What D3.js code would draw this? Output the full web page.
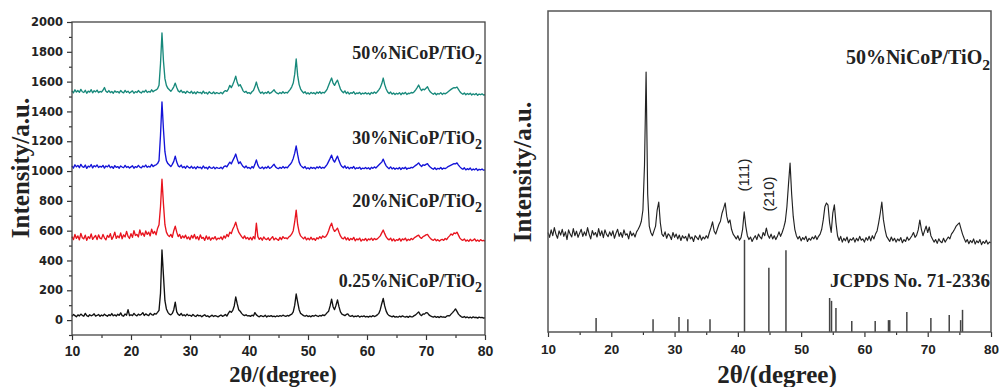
<!DOCTYPE html>
<html><head><meta charset="utf-8">
<script src="https://cdn.jsdelivr.net/npm/d3@7"></script>
<style>body{margin:0;background:#fff}svg{display:block}</style>
</head><body><svg id="c" width="999" height="387"></svg>
<script>
// 2θ sampling grid: 10° to 80° every 0.25°
const thetaStart = 10, thetaStep = 0.25;

// Left panel intensities (a.u.), one value per grid point
const s025 = [
25,38,30,22,35,28,40,32,26,45,30,24,36,29,33,42,27,31,38,25,
34,28,40,31,26,37,30,44,29,35,27,39,32,48,30,26,41,33,70,30,
36,30,45,34,28,40,33,38,50,31,42,35,30,46,37,33,44,40,52,65,
180,470,300,130,75,52,40,35,45,70,120,55,38,32,45,30,36,28,40,30,
33,26,38,29,24,35,28,31,22,30,36,25,29,20,27,33,24,30,26,22,
28,34,25,30,38,27,45,60,52,65,95,155,110,70,60,45,35,30,36,28,
30,25,33,28,50,35,27,22,30,26,24,32,21,28,25,30,23,27,22,29,
24,30,26,33,28,25,31,27,35,40,55,100,175,120,70,45,38,30,26,32,
24,28,22,30,26,33,29,24,31,27,35,30,38,50,60,95,140,90,70,100,
135,90,55,40,35,30,38,42,28,25,31,22,27,24,30,20,26,23,28,21,
25,20,27,22,30,24,28,35,45,70,110,145,95,60,40,30,26,22,28,20,
24,19,26,21,28,23,20,25,18,27,22,22,30,35,45,55,38,30,42,40,
50,48,35,28,24,20,26,18,23,17,25,20,22,18,26,30,28,40,50,62,
75,58,40,30,22,18,24,16,21,15,20,14,22,17,19,13,20,16,18,14,
15];
const s20 = [
560,540,575,548,565,538,582,552,545,570,535,560,548,578,542,556,568,540,572,550,
545,575,552,538,568,555,580,542,560,590,548,565,552,585,546,572,558,595,562,548,
580,555,600,568,575,558,605,570,585,562,598,575,590,565,610,580,595,572,615,640,
760,945,780,640,590,570,560,575,555,600,630,590,560,575,548,565,552,570,545,558,
540,568,550,575,545,560,538,572,548,555,535,565,542,558,536,552,545,560,538,550,
545,558,540,565,550,575,560,590,580,610,630,657,620,590,575,560,548,565,545,555,
540,555,538,560,545,650,560,542,552,536,558,545,540,552,535,548,560,538,550,542,
535,555,540,560,548,552,545,558,565,578,600,660,738,640,590,565,555,545,558,538,
550,538,556,540,548,535,552,545,560,548,565,555,560,575,600,630,650,615,595,605,
617,590,565,550,545,558,538,552,535,548,540,555,532,545,538,550,530,542,536,548,
532,545,538,550,535,548,540,545,555,565,585,604,580,558,545,538,550,532,545,530,
540,535,548,530,545,538,550,532,542,536,548,540,552,558,565,570,555,548,560,565,
572,575,560,548,540,535,545,532,540,530,538,542,535,548,540,555,565,578,570,585,
580,590,570,550,540,535,545,530,538,528,542,532,536,545,530,538,528,540,532,535,
530];
const s30 = [
1035,1020,1042,1028,1038,1022,1045,1030,1025,1040,1018,1033,1027,1044,1021,1036,1029,1041,1024,1032,
1026,1038,1020,1034,1028,1040,1022,1031,1018,1036,1025,1030,1019,1034,1027,1022,1038,1024,1031,1020,
1028,1035,1019,1030,1024,1038,1026,1021,1034,1028,1040,1025,1032,1027,1045,1030,1038,1042,1050,1070,
1240,1463,1280,1130,1070,1050,1040,1030,1045,1065,1100,1060,1035,1028,1040,1022,1030,1019,1034,1025,
1020,1032,1018,1028,1015,1030,1022,1026,1016,1034,1020,1025,1014,1030,1021,1018,1028,1015,1024,1020,
1018,1026,1015,1030,1035,1028,1045,1060,1048,1070,1090,1114,1080,1050,1062,1045,1030,1022,1034,1020,
1024,1016,1030,1020,1045,1075,1040,1022,1018,1028,1015,1026,1020,1032,1018,1024,1035,1045,1028,1020,
1016,1025,1018,1030,1020,1026,1022,1035,1045,1060,1085,1120,1168,1110,1060,1038,1028,1020,1030,1015,
1022,1014,1026,1018,1024,1015,1028,1020,1030,1018,1025,1020,1032,1045,1065,1085,1107,1075,1060,1080,
1100,1070,1045,1030,1022,1035,1018,1028,1015,1024,1019,1030,1014,1022,1018,1026,1012,1020,1016,1024,
1015,1022,1012,1025,1018,1028,1020,1030,1040,1050,1060,1080,1055,1035,1024,1016,1028,1014,1022,1012,
1020,1014,1024,1010,1022,1016,1026,1012,1020,1018,1025,1022,1030,1038,1045,1055,1040,1030,1042,1038,
1045,1050,1035,1025,1018,1012,1022,1010,1018,1014,1024,1012,1020,1016,1022,1030,1035,1040,1045,1050,
1048,1055,1040,1028,1018,1012,1022,1008,1016,1010,1020,1006,1014,1008,1018,1004,1012,1008,1014,1006,
1008];
const s50 = [
1538,1525,1545,1530,1540,1528,1548,1532,1527,1542,1522,1536,1530,1546,1525,1539,1531,1543,1526,1534,
1530,1542,1560,1535,1528,1540,1526,1534,1522,1538,1529,1533,1524,1540,1530,1525,1541,1528,1536,1523,
1531,1538,1522,1533,1527,1540,1529,1524,1536,1530,1543,1527,1534,1529,1545,1532,1540,1544,1552,1575,
1720,1926,1740,1620,1575,1555,1545,1535,1548,1565,1590,1560,1538,1530,1542,1526,1533,1522,1536,1528,
1524,1535,1520,1530,1518,1532,1525,1528,1519,1536,1522,1527,1517,1532,1523,1520,1530,1518,1526,1522,
1520,1528,1518,1532,1540,1535,1550,1575,1560,1580,1605,1637,1595,1570,1580,1560,1538,1528,1535,1522,
1526,1518,1532,1540,1565,1597,1560,1535,1522,1530,1518,1528,1522,1534,1520,1526,1535,1545,1530,1522,
1518,1527,1520,1532,1522,1528,1524,1536,1548,1565,1590,1650,1752,1640,1580,1550,1535,1524,1532,1518,
1525,1516,1528,1520,1526,1517,1530,1522,1532,1520,1528,1524,1535,1550,1575,1600,1624,1590,1575,1595,
1610,1580,1550,1535,1525,1538,1520,1530,1517,1526,1521,1532,1516,1524,1520,1528,1515,1523,1518,1526,
1517,1524,1514,1527,1520,1530,1522,1532,1545,1560,1585,1624,1580,1550,1530,1520,1530,1516,1524,1514,
1522,1516,1526,1512,1524,1518,1528,1514,1522,1520,1527,1524,1532,1545,1560,1577,1555,1540,1550,1545,
1555,1565,1545,1530,1522,1515,1524,1512,1520,1516,1526,1514,1522,1518,1524,1532,1540,1548,1555,1560,
1558,1564,1548,1532,1522,1515,1524,1512,1520,1514,1522,1510,1518,1512,1520,1508,1516,1512,1518,1510,
1512];

// Right panel: 50% NiCoP/TiO2 trace (a.u.)
const sRight = [
310,295,318,300,325,305,292,315,302,320,298,312,288,318,305,296,322,300,314,295,
308,320,298,312,300,325,305,290,316,302,310,296,322,300,315,294,318,304,297,312,
300,315,292,308,320,298,310,295,318,302,306,290,314,300,308,296,312,320,330,345,
380,520,810,430,330,310,300,315,330,380,405,340,305,298,312,292,306,300,288,310,
295,305,290,302,285,300,292,298,284,306,290,296,282,300,294,288,302,286,296,290,
300,292,310,325,343,315,305,320,335,345,370,385,402,360,340,349,320,305,298,290,
300,286,294,320,374,330,300,288,296,282,292,300,288,305,296,290,310,300,324,302,
292,305,290,300,288,298,312,298,310,325,345,390,460,526,430,360,320,300,290,298,
284,294,288,298,282,292,286,296,290,300,288,298,305,320,350,390,402,395,340,310,
370,396,340,300,285,298,280,292,284,296,278,290,286,294,280,292,284,298,286,290,
280,294,286,298,284,300,290,305,315,340,370,405,350,320,298,290,282,296,284,292,
280,290,284,294,278,288,282,296,286,292,300,310,295,302,318,349,320,300,315,330,
310,327,300,290,280,288,276,290,282,278,292,280,288,296,290,305,312,320,330,335,
340,322,305,292,280,288,275,285,278,290,274,284,278,288,272,282,276,286,274,280,
278];

// JCPDS No. 71-2336 reference lines
const refTheta = [17.6,26.6,30.7,32.1,35.6,41.05,44.9,47.6,54.5,54.8,55.5,58.0,61.7,63.8,64.0,66.7,70.5,73.4,75.2,75.5];
const refInt   = [44,40,47,40,40,287,200,255,106,97,75,34,34,37,37,62,44,53,37,69];

const xTicks = [10,20,30,40,50,60,70,80];
const xMinor = [15,25,35,45,55,65,75];
const yTicksLeft = [0,200,400,600,800,1000,1200,1400,1600,1800,2000];
const yMinorLeft = [-100,100,300,500,700,900,1100,1300,1500,1700,1900];

const leftSeries = [
  {name:"0.25%NiCoP/TiO", vals:s025, color:"#111111"},
  {name:"20%NiCoP/TiO",   vals:s20,  color:"#e8141e"},
  {name:"30%NiCoP/TiO",   vals:s30,  color:"#1414d8"},
  {name:"50%NiCoP/TiO",   vals:s50,  color:"#17897b"}
];

const svg = d3.select("#c");
const toPts = vals => vals.map((v,i)=>[thetaStart + i*thetaStep, v]);

// ---------- Left panel ----------
const xL = d3.scaleLinear().domain([10,80]).range([72,485]);
const yL = d3.scaleLinear().domain([-100,2000]).range([335,22]);
const lineL = d3.line().x(d=>xL(d[0])).y(d=>yL(d[1]));

leftSeries.forEach(s=>{
  svg.append("path").datum(toPts(s.vals)).attr("d",lineL)
    .attr("fill","none").attr("stroke",s.color).attr("stroke-width",1.35).attr("stroke-linejoin","round");
});

function styleAxis(g, font, size){
  g.select(".domain").remove();
  g.selectAll("line").attr("stroke","#333").attr("stroke-width",1.2);
  g.selectAll("text").attr("font-family",font).attr("font-weight","bold").attr("font-size",size).attr("fill","#222");
}
let g;
g = svg.append("g").attr("transform","translate(0,335)")
  .call(d3.axisBottom(xL).tickValues(xTicks).tickSize(5).tickPadding(6).tickFormat(d3.format("d")));
styleAxis(g,"'Liberation Sans',Arial,sans-serif",14);
g = svg.append("g").attr("transform","translate(0,335)")
  .call(d3.axisBottom(xL).tickValues(xMinor).tickSize(3).tickFormat(""));
styleAxis(g,"sans-serif",1);
g = svg.append("g").attr("transform","translate(72,0)")
  .call(d3.axisLeft(yL).tickValues(yTicksLeft).tickSize(5).tickPadding(4).tickFormat(d3.format("d")));
styleAxis(g,"'DejaVu Sans',sans-serif",11.5);
g = svg.append("g").attr("transform","translate(72,0)")
  .call(d3.axisLeft(yL).tickValues(yMinorLeft).tickSize(3).tickFormat(""));
styleAxis(g,"sans-serif",1);

svg.append("rect").attr("x",xL(10)).attr("y",yL(2000)).attr("width",xL(80)-xL(10)).attr("height",yL(-100)-yL(2000))
  .attr("fill","none").attr("stroke","#444").attr("stroke-width",1.3);

const serif = "'Liberation Serif','Times New Roman',serif";
function chemLabel(x,y,txt,size){
  const t = svg.append("text").attr("x",x).attr("y",y).attr("text-anchor","end")
    .attr("font-family",serif).attr("font-weight","bold").attr("font-size",size).attr("fill","#222");
  t.append("tspan").text(txt);
  t.append("tspan").attr("dy",size*0.28).attr("font-size",size*0.78).text("2");
}
const leftLabelY = [287,207,144,59];
leftSeries.forEach((s,i)=>chemLabel(482,leftLabelY[i],s.name,18));

svg.append("text").attr("transform","translate(29,168) rotate(-90)").attr("text-anchor","middle")
  .attr("font-family",serif).attr("font-weight","bold").attr("font-size",25).attr("fill","#222").text("Intensity/a.u.");
svg.append("text").attr("x",283).attr("y",382).attr("text-anchor","middle")
  .attr("font-family",serif).attr("font-weight","bold").attr("font-size",22.5).attr("fill","#222").text("2θ/(degree)");

// ---------- Right panel ----------
const xR = d3.scaleLinear().domain([10,80]).range([548,991]);
const yR = d3.scaleLinear().domain([0,1000]).range([332,11]);
const lineR = d3.line().x(d=>xR(d[0])).y(d=>yR(d[1]));

svg.append("path").datum(toPts(sRight)).attr("d",lineR)
  .attr("fill","none").attr("stroke","#222").attr("stroke-width",1.15).attr("stroke-linejoin","round");

svg.selectAll(".ref").data(refTheta.map((t,i)=>[t,refInt[i]])).enter().append("line")
  .attr("x1",d=>xR(d[0])).attr("x2",d=>xR(d[0])).attr("y1",yR(0)).attr("y2",d=>yR(d[1]))
  .attr("stroke","#444").attr("stroke-width",1.5);

g = svg.append("g").attr("transform","translate(0,332)")
  .call(d3.axisBottom(xR).tickValues(xTicks).tickSize(5).tickPadding(7).tickFormat(d3.format("d")));
styleAxis(g,"'Liberation Sans',Arial,sans-serif",13.5);
g = svg.append("g").attr("transform","translate(0,332)")
  .call(d3.axisBottom(xR).tickValues(xMinor).tickSize(3).tickFormat(""));
styleAxis(g,"sans-serif",1);

svg.append("rect").attr("x",xR(10)).attr("y",yR(1000)).attr("width",xR(80)-xR(10)).attr("height",yR(0)-yR(1000))
  .attr("fill","none").attr("stroke","#555").attr("stroke-width",1.5);

chemLabel(990,64,"50%NiCoP/TiO",20);
svg.append("text").attr("x",990).attr("y",287).attr("text-anchor","end")
  .attr("font-family",serif).attr("font-weight","bold").attr("font-size",19).attr("fill","#222").text("JCPDS No. 71-2336");

svg.append("text").attr("transform","translate(749,175) rotate(-90)").attr("text-anchor","middle")
  .attr("font-family","'Liberation Sans',Arial,sans-serif").attr("font-size",15).attr("fill","#222").text("(111)");
svg.append("text").attr("transform","translate(774,194) rotate(-90)").attr("text-anchor","middle")
  .attr("font-family","'Liberation Sans',Arial,sans-serif").attr("font-size",15).attr("fill","#222").text("(210)");

svg.append("text").attr("transform","translate(531,172) rotate(-90)").attr("text-anchor","middle")
  .attr("font-family",serif).attr("font-weight","bold").attr("font-size",25).attr("fill","#222").text("Intensity/a.u.");
svg.append("text").attr("x",777).attr("y",383).attr("text-anchor","middle")
  .attr("font-family",serif).attr("font-weight","bold").attr("font-size",25).attr("fill","#222").text("2θ/(degree)");
</script></body></html>
